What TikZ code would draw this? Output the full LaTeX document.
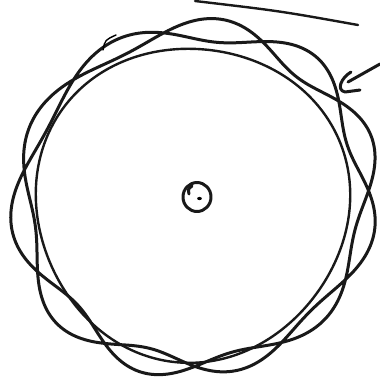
\documentclass[tikz,border=0pt]{standalone}
\begin{document}
\begin{tikzpicture}[x=1pt,y=-1pt,
  pen/.style={line width=3pt,line cap=round,line join=round,black!90},
  thinpen/.style={line width=2.4pt,line cap=round,line join=round,black!90}]
\useasboundingbox (0,0) rectangle (380,384);
% smooth base circle
\coordinate (c0) at (192,203);
\draw[thinpen] plot[domain=0:360,samples=181,smooth,variable=\t]
  ({192+(157+3*sin(3*\t+20))*cos(\t)},{203-(157+3*sin(3*\t+20))*sin(\t)}) -- cycle;
% braided wavy strand (goes round twice)
\draw[pen] plot[domain=0:720,samples=721,variable=\t]
  ({195+(171+3*sin(2*\t+60)+(11+3*sin(2*\t))*sin(5.5*\t-28+22*sin(\t+40)))*cos(\t)},
   {198-(171+3*sin(2*\t+60)+(11+3*sin(2*\t))*sin(5.5*\t-28+22*sin(\t+40)))*sin(\t)});
% centre mark
\coordinate (cc) at (197,197);
\draw[pen] (cc) circle[x radius=14,y radius=14.5];
\draw[pen] (189,194) .. controls (188,189) .. (192,186);
\fill[black] (199.5,198.5) ellipse[x radius=2.4,y radius=1.6];
% top line
\coordinate (t1) at (195,1);
\coordinate (t2) at (358,25);
\draw[thinpen] (t1) .. controls (280,11) .. (t2);
% small tick near top left
\coordinate (k1) at (103,50);
\coordinate (k2) at (116,35);
\draw[line width=1.4pt,line cap=round] (k1) .. controls (105,40) .. (k2);
% arrow mark on the right
\coordinate (a1) at (380,64);
\coordinate (a2) at (348,82);
\draw[pen] (a1) -- (a2);
\draw[pen] (351,72) .. controls (341,78) and (336,90) .. (345,92) -- (360,90);
\end{tikzpicture}
\end{document}
